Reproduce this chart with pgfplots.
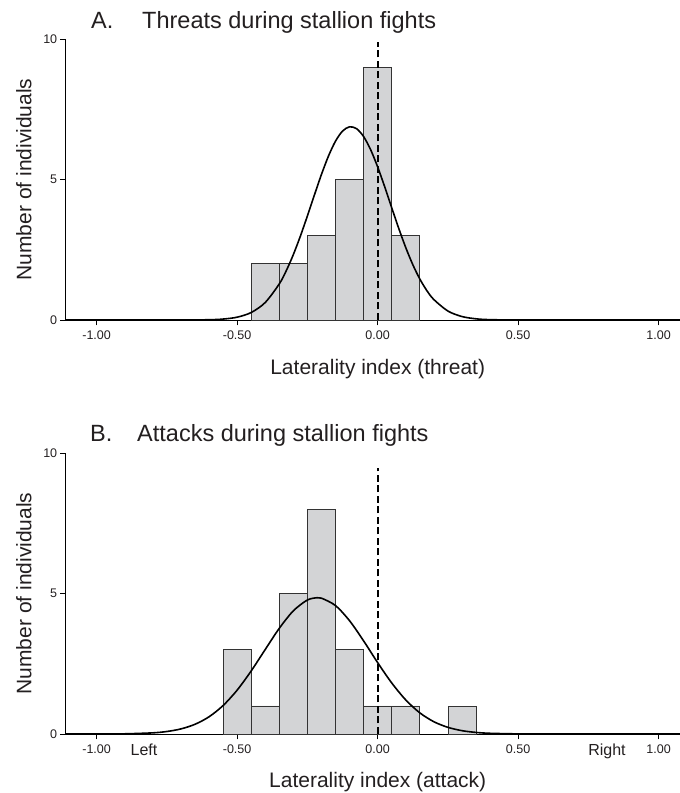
\documentclass[border=0pt]{standalone}
\usepackage{pgfplots}
\pgfplotsset{compat=1.18}
\usepackage{fontspec}
\setmainfont{Liberation Sans}
\definecolor{barfill}{HTML}{D3D4D6}
\definecolor{baredge}{HTML}{333333}
\definecolor{txt}{HTML}{231F20}
\pgfplotsset{
  histo/.style={
    scale only axis, width=614.3pt, height=281pt,
    xmin=-1.11, xmax=1.076, ymin=0, ymax=10,
    axis lines*=left,
    axis line style={line width=0.9pt, black},
    xtick={-1,-0.5,0,0.5,1},
    xticklabels={-1.00,-0.50,0.00,0.50,1.00},
    ytick={0,5,10}, yticklabels={0,5,10},
    tick align=outside, major tick length=5.5pt,
    tick style={line width=0.8pt, black},
    ticklabel style={font=\fontsize{12.5}{15}\selectfont, text=txt},
    xticklabel style={yshift=-1.5pt},
    yticklabel style={xshift=0.5pt},
    clip=false,
  },
  bars/.style={ybar interval, fill=barfill, draw=baredge, line width=0.7pt},
  curve/.style={smooth, line width=1.6pt, black, mark=none},
  zero/.style={dash pattern=on 7pt off 3.5pt, line width=2pt, black, mark=none},
}
\begin{document}
\begin{tikzpicture}
\path[use as bounding box] (0pt,0pt) rectangle (680pt,793pt);
% ---------- Panel A ----------
\begin{axis}[histo, at={(65.7pt,473pt)}, anchor=south west]
\addplot[bars] coordinates {(-0.45,2) (-0.35,2) (-0.25,3) (-0.15,5) (-0.05,9) (0.05,3) (0.15,0)};
\addplot[zero] coordinates {(0,0) (0,9.9)};
\addplot[curve] coordinates {
(-1.11,0) (-0.9,0) (-0.7,0.0005) (-0.6,0.0095) (-0.55,0.033) (-0.5,0.100) (-0.45,0.266)
(-0.4,0.623) (-0.35,1.284) (-0.325,1.757) (-0.3,2.326) (-0.275,2.982) (-0.25,3.701)
(-0.225,4.448) (-0.2,5.177) (-0.175,5.832) (-0.15,6.363) (-0.125,6.722) (-0.1,6.875)
(-0.075,6.809) (-0.05,6.530) (-0.025,6.063) (0,5.45) (0.025,4.745) (0.05,3.999)
(0.075,3.264) (0.1,2.579) (0.125,1.973) (0.15,1.462) (0.175,1.048) (0.2,0.728)
(0.25,0.319) (0.3,0.123) (0.35,0.042) (0.4,0.012) (0.5,0.0007) (0.7,0) (1.076,0)};
\end{axis}
% ---------- Panel B ----------
\begin{axis}[histo, at={(65.7pt,59pt)}, anchor=south west]
\addplot[bars] coordinates {(-0.55,3) (-0.45,1) (-0.35,5) (-0.25,8) (-0.15,3) (-0.05,1) (0.05,1) (0.15,0)};
\addplot[bars] coordinates {(0.25,1) (0.35,0)};
\addplot[zero] coordinates {(0,0) (0,9.47)};
\addplot[curve] coordinates {
(-1.11,0) (-1.0,0.0007) (-0.9,0.0069) (-0.8,0.041) (-0.75,0.089) (-0.7,0.181) (-0.65,0.345)
(-0.6,0.612) (-0.55,1.012) (-0.5,1.56) (-0.45,2.243) (-0.4,3.007) (-0.35,3.760)
(-0.3,4.384) (-0.25,4.768) (-0.215,4.85) (-0.2,4.835) (-0.15,4.572) (-0.1,4.032)
(-0.05,3.316) (0,2.54) (0.05,1.819) (0.1,1.213) (0.15,0.754) (0.2,0.437) (0.25,0.237)
(0.3,0.119) (0.35,0.056) (0.4,0.025) (0.5,0.004) (0.6,0.0005) (0.8,0) (1.076,0)};
\end{axis}
% ---------- Text ----------
\begin{scope}[every node/.style={inner sep=0pt, text=txt}]
\node[anchor=base west, font=\fontsize{23.5}{28}\selectfont] at (91pt,764.6pt) {A.};
\node[anchor=base west, font=\fontsize{23.5}{28}\selectfont] at (142pt,764.6pt) {Threats during stallion fights};
\node[anchor=base west, font=\fontsize{23.5}{28}\selectfont] at (90pt,351.6pt) {B.};
\node[anchor=base west, font=\fontsize{23.5}{28}\selectfont] at (137pt,351.6pt) {Attacks during stallion fights};
\node[anchor=base, rotate=90, font=\fontsize{21}{25}\selectfont] at (31.5pt,613.5pt) {Number of individuals};
\node[anchor=base, rotate=90, font=\fontsize{21}{25}\selectfont] at (31.5pt,199.5pt) {Number of individuals};
\node[anchor=base, font=\fontsize{21}{25}\selectfont] at (377.7pt,418.5pt) {Laterality index (threat)};
\node[anchor=base, font=\fontsize{21}{25}\selectfont] at (377.7pt,5.5pt) {Laterality index (attack)};
\node[anchor=base, font=\fontsize{16}{19}\selectfont] at (144pt,37.3pt) {Left};
\node[anchor=base, font=\fontsize{16}{19}\selectfont] at (607pt,37.3pt) {Right};
\end{scope}
\end{tikzpicture}
\end{document}
